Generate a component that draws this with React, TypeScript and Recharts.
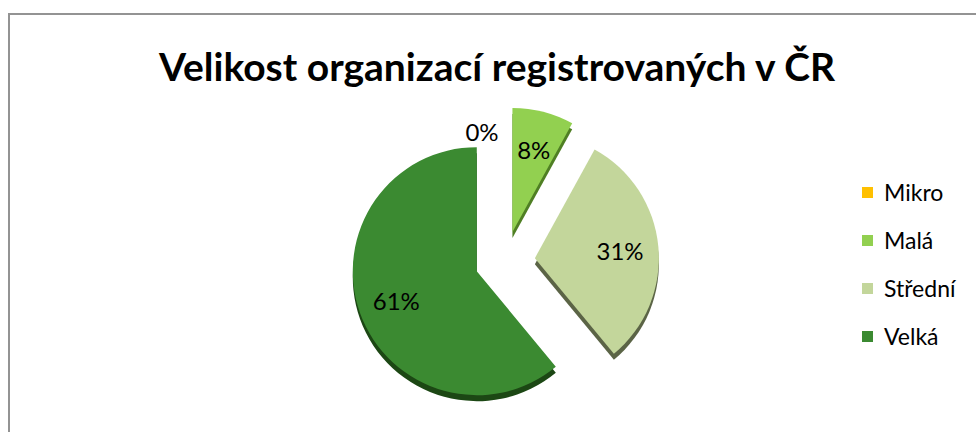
import { PieChart, Pie, Cell, Legend } from 'recharts';

const title = 'Velikost organizací registrovaných v ČR';
const categories = ['Mikro', 'Malá', 'Střední', 'Velká'];
const values = [0, 8, 31, 61];
const colors = ['#FFC000', '#92D050', '#C3D69B', '#3B8A31'];
const sideColors = ['#8a6a00', '#4f7f24', '#5b6446', '#1c4714'];

const W = 976;
const H = 432;
const CX = 500;
const CY = 256;
const R = 124;
const EXPLODE = 30;
const DEPTH = 6;
const RAD = Math.PI / 180;
const FONT = 'Lato, "Open Sans", sans-serif';

const data = categories.map((name, i) => ({ name, value: values[i] }));
const total = values.reduce((a, b) => a + b, 0);

// middle of each slice, degrees clockwise from 12 o'clock
const midAngles = values.map((v, i) => {
  const before = values.slice(0, i).reduce((a, b) => a + b, 0);
  return ((before + v / 2) / total) * 360;
});
const offsets = midAngles.map((a) => ({
  dx: EXPLODE * Math.sin(a * RAD),
  dy: -EXPLODE * Math.cos(a * RAD),
}));

function makeLabel(slice: number) {
  return (p: any) => {
    if (p.index !== slice) return null;
    const zero = values[slice] === 0;
    const r = zero ? p.outerRadius * 0.8 : p.outerRadius * 0.69;
    const x = p.cx + r * Math.cos(-p.midAngle * RAD) + (zero ? -23 : 0);
    const y = p.cy + r * Math.sin(-p.midAngle * RAD);
    return (
      <text x={x} y={y} fill="#000" fontSize={24} fontFamily={FONT}
        textAnchor="middle" dominantBaseline="central">
        {`${Math.round((values[slice] / total) * 100)}%`}
      </text>
    );
  };
}

function LegendBox() {
  return (
    <div style={{ fontFamily: FONT, fontSize: 23, color: '#000' }}>
      {categories.map((c, i) => (
        <div key={c} style={{ display: 'flex', alignItems: 'center', height: 48 }}>
          <span style={{ width: 11, height: 11, background: colors[i], marginRight: 11, display: 'inline-block' }} />
          {c}
        </div>
      ))}
    </div>
  );
}

export default function App() {
  return (
    <div style={{ position: 'absolute', left: 0, top: 0, width: W, height: H, overflow: 'hidden', background: '#fff' }}>
      <div style={{ position: 'absolute', left: 8, top: 13, width: 1200, height: 800,
        borderTop: '2px solid #939393', borderLeft: '2px solid #939393' }} />
      <div style={{ position: 'absolute', left: 9, top: 42, width: W, textAlign: 'center',
        fontFamily: FONT, fontWeight: 700, fontSize: 39, lineHeight: '48px' }}>
        {title}
      </div>
      <div style={{ position: 'absolute', left: 0, top: 0 }}>
        <PieChart width={W} height={H}>
          {categories.map((c, i) => (
            <Pie key={'side' + c} data={data} dataKey="value" nameKey="name"
              cx={CX + offsets[i].dx} cy={CY + offsets[i].dy + DEPTH} outerRadius={R}
              startAngle={90} endAngle={-270} stroke="none" legendType="none"
              isAnimationActive={false}>
              {data.map((d, j) => (
                <Cell key={d.name} fill={j === i ? sideColors[j] : 'transparent'} />
              ))}
            </Pie>
          ))}
          {categories.map((c, i) => (
            <Pie key={'top' + c} data={data} dataKey="value" nameKey="name"
              cx={CX + offsets[i].dx} cy={CY + offsets[i].dy} outerRadius={R}
              startAngle={90} endAngle={-270} stroke="none" legendType="none"
              label={makeLabel(i)} labelLine={false}
              isAnimationActive={false}>
              {data.map((d, j) => (
                <Cell key={d.name} fill={j === i ? colors[j] : 'transparent'} />
              ))}
            </Pie>
          ))}
          <Legend content={() => <LegendBox />} layout="vertical"
            wrapperStyle={{ left: 862, top: 168, width: 114 }} />
        </PieChart>
      </div>
    </div>
  );
}
